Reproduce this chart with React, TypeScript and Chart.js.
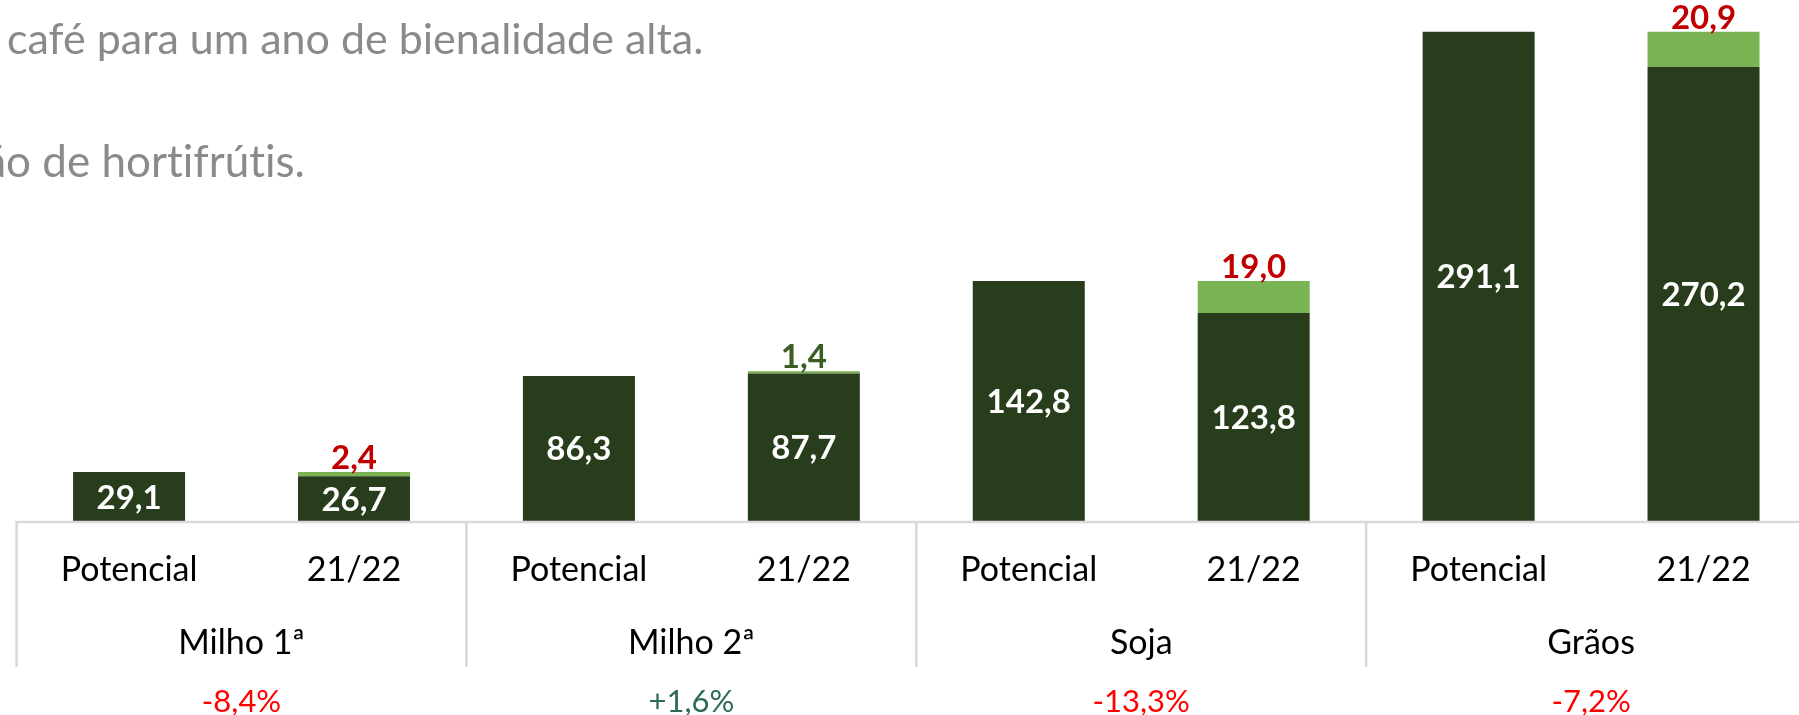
import React, { useEffect, useRef } from "react";
import { Chart, registerables } from "chart.js";

Chart.register(...registerables);

// ---- data ----
const barLabels = ["Potencial", "21/22", "Potencial", "21/22", "Potencial", "21/22", "Potencial", "21/22"];
const groupLabels = ["Milho 1ª", "Milho 2ª", "Soja", "Grãos"];
const baseValues = [29.1, 26.7, 86.3, 87.7, 142.8, 123.8, 291.1, 270.2];
const diffValues = [0, 2.4, 0, 1.4, 0, 19.0, 0, 20.9];
const changePct = [-8.4, 1.6, -13.3, -7.2];
const slideLine1 = "café para um ano de bienalidade alta.";
const slideLine2 = "ção de hortifrútis.";

// ---- styles ----
const DARK = "#283D1C";
const LIGHT = "#7AB354";
const RED_LABEL = "#C00000";
const GREEN_LABEL = "#3B5E25";
const PCT_RED = "#FF0000";
const PCT_GREEN = "#2E6B50";
const GRID = "#D9D9D9";
const FONT = "Lato, 'Open Sans', sans-serif";

const fmt = (v: number) => v.toFixed(1).replace(".", ",");
const fmtPct = (v: number) => (v > 0 ? "+" : "") + v.toFixed(1).replace(".", ",") + "%";

const CANVAS_W = 1816;
const CANVAS_H = 715;

const labelPlugin = {
  id: "customLabels",
  afterDatasetsDraw(chart: any) {
    const ctx = chart.ctx as CanvasRenderingContext2D;
    const area = chart.chartArea;
    const xs = chart.scales.x;
    const catW = (area.right - area.left) / barLabels.length;
    const axisY = area.bottom + 1;
    const m0 = chart.getDatasetMeta(0);
    const m1 = chart.getDatasetMeta(1);
    ctx.save();

    // axis line + group separators
    ctx.strokeStyle = GRID;
    ctx.lineWidth = 2.5;
    ctx.beginPath();
    ctx.moveTo(area.left - 1, axisY);
    ctx.lineTo(CANVAS_W, axisY);
    ctx.stroke();
    for (let g = 0; g <= groupLabels.length; g++) {
      const x = area.left + g * 2 * catW;
      ctx.beginPath();
      ctx.moveTo(x, axisY);
      ctx.lineTo(x, 667);
      ctx.stroke();
    }

    // inner labels
    ctx.textAlign = "center";
    ctx.textBaseline = "alphabetic";
    ctx.font = `bold 33px ${FONT}`;
    m0.data.forEach((bar: any, i: number) => {
      const cy = (bar.y + bar.base) / 2;
      ctx.fillStyle = "#FFFFFF";
      ctx.fillText(fmt(baseValues[i]), bar.x, cy + 12);
    });

    // top labels (difference)
    m1.data.forEach((bar: any, i: number) => {
      const v = diffValues[i];
      if (!v) return;
      const potencial = baseValues[i - 1];
      const atual = baseValues[i];
      ctx.fillStyle = atual < potencial ? RED_LABEL : GREEN_LABEL;
      ctx.fillText(fmt(v), bar.x, bar.y - 3);
    });

    // category labels
    ctx.font = `34px ${FONT}`;
    ctx.fillStyle = "#000000";
    barLabels.forEach((l, i) => {
      ctx.fillText(l, xs.getPixelForValue(i), 581);
    });
    groupLabels.forEach((l, g) => {
      const cx = area.left + (g * 2 + 1) * catW;
      ctx.fillText(l, cx, 654);
    });

    // percentages
    ctx.font = `31px ${FONT}`;
    changePct.forEach((p, g) => {
      const cx = area.left + (g * 2 + 1) * catW;
      ctx.fillStyle = p < 0 ? PCT_RED : PCT_GREEN;
      ctx.fillText(fmtPct(p), cx, 712);
    });
    ctx.restore();
  },
};

export default function App() {
  const ref = useRef<HTMLCanvasElement | null>(null);
  useEffect(() => {
    if (!ref.current) return;
    const chart = new Chart(ref.current, {
      type: "bar",
      data: {
        labels: barLabels,
        datasets: [
          { data: baseValues, backgroundColor: DARK, borderWidth: 0, barPercentage: 0.498, categoryPercentage: 1 },
          { data: diffValues, backgroundColor: LIGHT, borderWidth: 0, barPercentage: 0.498, categoryPercentage: 1 },
        ],
      },
      options: {
        responsive: false,
        animation: false,
        devicePixelRatio: 1,
        layout: { padding: { left: 16.6, right: 0, top: 0, bottom: CANVAS_H - 521 } },
        plugins: { legend: { display: false }, tooltip: { enabled: false } },
        scales: {
          x: { stacked: true, display: false, offset: true },
          y: { stacked: true, display: false, min: 0, max: 310 },
        },
      },
      plugins: [labelPlugin],
    });
    return () => chart.destroy();
  }, []);

  const textStyle: React.CSSProperties = {
    position: "absolute",
    fontFamily: FONT,
    fontSize: 43,
    lineHeight: "44px",
    color: "#8A8A8A",
    whiteSpace: "nowrap",
    fontVariantLigatures: "none",
  };

  return (
    <div style={{ position: "absolute", left: 0, top: 0, width: 1799, height: 715, overflow: "hidden", background: "#fff" }}>
      <canvas ref={ref} width={CANVAS_W} height={CANVAS_H} style={{ position: "absolute", left: 0, top: 0, display: "block" }} />
      <div style={{ ...textStyle, left: 7, top: 16 }}>{slideLine1}</div>
      <div style={{ ...textStyle, fontSize: 44, right: 1799 - 305, top: 138 }}>{slideLine2}</div>
    </div>
  );
}
